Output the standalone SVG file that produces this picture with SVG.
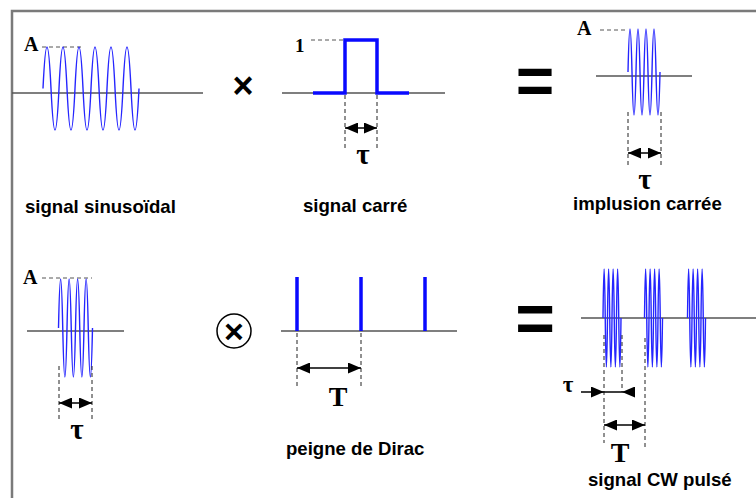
<svg xmlns="http://www.w3.org/2000/svg" width="756" height="498" viewBox="0 0 756 498">
<defs>
<marker id="ah" markerUnits="userSpaceOnUse" markerWidth="13" markerHeight="11" refX="13" refY="5.5" orient="auto-start-reverse" viewBox="0 0 13 11"><path d="M0,0 L13,5.5 L0,11 z" fill="#000"/></marker>
<path id="burst" d="M603,318 Q604.125,220 605.25,318 T607.5,318 T609.75,318 T612,318 T614.25,318 T616.5,318 T618.75,318 T621,318"/>
<style>
.frame{stroke:#7a7a7a;stroke-width:2.5;fill:none}
.axis{stroke:#555;stroke-width:1.5;fill:none}
.wave{stroke:#2525ff;stroke-width:1.4;fill:none}
.pulse{stroke:#0a0aff;stroke-width:3.5;fill:none}
.guide{stroke:#555;stroke-width:1;stroke-dasharray:4 3;fill:none}
.vdash{stroke:#222;stroke-width:1;stroke-dasharray:4 3;fill:none}
.dim{stroke:#000;stroke-width:1.5;fill:none}
.lbl{font-family:"Liberation Sans",Arial,sans-serif;font-weight:bold;font-size:18.6px;fill:#000}
.ser{font-family:"Liberation Serif","Times New Roman",serif;font-weight:bold;fill:#000}
.op{font-family:"Liberation Sans",Arial,sans-serif;font-weight:bold;fill:#000}
</style>
</defs>
<rect width="756" height="498" fill="#fff"/>
<path class="frame" d="M12,498 V11 H756"/>

<g id="sinus">
<line class="axis" x1="12" y1="93" x2="203" y2="93"/>
<line class="guide" x1="42" y1="47" x2="82" y2="47"/>
<path class="wave" d="M43,88.5 Q47,5.5 51,88.5 T59,88.5 T67,88.5 T75,88.5 T83,88.5 T91,88.5 T99,88.5 T107,88.5 T115,88.5 T123,88.5 T131,88.5 T139,88.5"/>
<text class="ser" x="24" y="51" font-size="20">A</text>
<text class="lbl" x="25" y="213">signal sinusoïdal</text>
</g>

<g id="times">
<text class="op" x="243" y="98" font-size="36" text-anchor="middle">×</text>
</g>

<g id="carre">
<line class="axis" x1="282" y1="93" x2="445" y2="93"/>
<line class="guide" x1="311" y1="40" x2="345" y2="40"/>
<path class="pulse" d="M313,93 H345 V40 H377 V93 H409"/>
<text class="ser" x="295" y="52" font-size="19" font-weight="normal">1</text>
<line class="vdash" x1="345" y1="95" x2="345" y2="148"/>
<line class="vdash" x1="377" y1="95" x2="377" y2="148"/>
<text class="ser" x="363" y="164" font-size="29" text-anchor="middle">τ</text>
<text class="lbl" x="303" y="212">signal carré</text>
</g>

<g id="eq1">
<text class="op" x="535" y="104" font-size="66" text-anchor="middle">=</text>
</g>

<g id="impulsion">
<line class="axis" x1="596" y1="76" x2="692" y2="76"/>
<line class="guide" x1="600" y1="30" x2="628" y2="30"/>
<path class="wave" d="M628,72 Q630,-14 632,72 T636,72 T640,72 T644,72 T648,72 T652,72 T656,72 T660,72"/>
<text class="ser" x="577" y="35" font-size="20">A</text>
<line class="vdash" x1="628" y1="112" x2="628" y2="167"/>
<line class="vdash" x1="661" y1="112" x2="661" y2="167"/>
<text class="ser" x="645" y="189" font-size="29" text-anchor="middle">τ</text>
<text class="lbl" x="573" y="210">implusion carrée</text>
</g>

<g id="impulsion2">
<line class="axis" x1="27" y1="331" x2="124" y2="331"/>
<line class="guide" x1="42" y1="278" x2="92" y2="278"/>
<path class="wave" d="M58.5,328 Q60.625,230 62.75,328 T67,328 T71.25,328 T75.5,328 T79.75,328 T84,328 T88.25,328 T92.5,328"/>
<text class="ser" x="23" y="284" font-size="20">A</text>
<line class="vdash" x1="59" y1="366" x2="59" y2="422"/>
<line class="vdash" x1="92" y1="366" x2="92" y2="422"/>
<text class="ser" x="77" y="439" font-size="29" text-anchor="middle">τ</text>
</g>

<g id="conv">
<circle cx="234" cy="331" r="17" fill="none" stroke="#000" stroke-width="1.5"/>
<text class="op" x="234" y="343" font-size="34" text-anchor="middle">×</text>
</g>

<g id="dirac">
<line class="axis" x1="281" y1="331" x2="457" y2="331"/>
<path class="pulse" d="M297,277 V331 M361,277 V331 M425,277 V331"/>
<line class="vdash" x1="297" y1="333" x2="297" y2="386"/>
<line class="vdash" x1="361" y1="333" x2="361" y2="386"/>
<text class="ser" x="338" y="406" font-size="28" font-weight="normal" text-anchor="middle">T</text>
<text class="lbl" x="286" y="455">peigne de Dirac</text>
</g>

<g id="eq2">
<text class="op" x="535" y="342" font-size="68" text-anchor="middle">=</text>
</g>

<g id="pulse-cw">
<line class="axis" x1="581" y1="318" x2="756" y2="318"/>
<use href="#burst" class="wave"/>
<use href="#burst" class="wave" transform="translate(41.5,0)"/>
<use href="#burst" class="wave" transform="translate(84.5,0)"/>
<line class="vdash" x1="604" y1="335" x2="604" y2="443"/>
<line class="vdash" x1="622" y1="335" x2="622" y2="392"/>
<line class="vdash" x1="645" y1="338" x2="645" y2="447"/>
<text class="ser" x="568" y="392" font-size="23" text-anchor="middle">τ</text>
<text class="ser" x="620" y="462" font-size="28" font-weight="normal" text-anchor="middle">T</text>
<text class="lbl" x="588" y="486">signal CW pulsé</text>
</g>

<g id="connectors">
<path class="dim" d="M345,128 H377" marker-start="url(#ah)" marker-end="url(#ah)"/>
<path class="dim" d="M628,153 H661" marker-start="url(#ah)" marker-end="url(#ah)"/>
<path class="dim" d="M59,403 H92" marker-start="url(#ah)" marker-end="url(#ah)"/>
<path class="dim" d="M297,368 H361" marker-start="url(#ah)" marker-end="url(#ah)"/>
<path class="dim" d="M581,392 H604" marker-end="url(#ah)"/>
<path class="dim" d="M604,392 H622"/>
<path class="dim" d="M635,392 H622" marker-end="url(#ah)"/>
<path class="dim" d="M604,425 H645" marker-start="url(#ah)" marker-end="url(#ah)"/>
</g>
</svg>
